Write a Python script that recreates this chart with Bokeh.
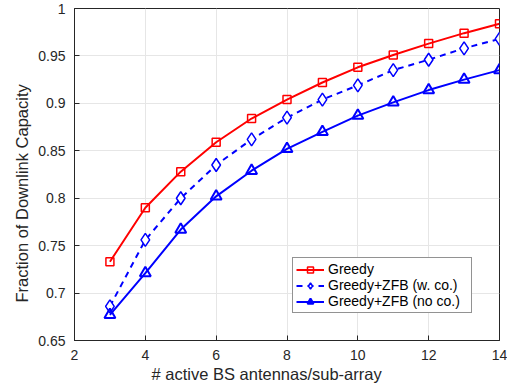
from bokeh.plotting import figure
from bokeh.models import FixedTicker, Range1d, Title
from bokeh.embed import file_html
from bokeh.resources import INLINE

x = [3, 4, 5, 6, 7, 8, 9, 10, 11, 12, 13, 14]
greedy = [0.733, 0.790, 0.828, 0.859, 0.884, 0.904, 0.922, 0.938, 0.951, 0.963, 0.974, 0.984]
zfb_co = [0.686, 0.756, 0.800, 0.835, 0.862, 0.885, 0.904, 0.919, 0.935, 0.946, 0.958, 0.968]
zfb_noco = [0.677, 0.721, 0.767, 0.802, 0.829, 0.852, 0.870, 0.887, 0.901, 0.914, 0.925, 0.935]

x_ticks = [2, 4, 6, 8, 10, 12, 14]
y_ticks = [0.65, 0.7, 0.75, 0.8, 0.85, 0.9, 0.95, 1.0]
y_tick_labels = ["0.65", "0.7", "0.75", "0.8", "0.85", "0.9", "0.95", "1"]
x_title = "# active BS antennas/sub-array"
y_title = "Fraction of Downlink Capacity"

FONT = "Liberation Sans"
FL, FR, FT, FB = 74, 499, 8, 340  # frame edges in px

p = figure(width=507, height=389, output_backend="svg", toolbar_location=None,
           x_range=Range1d(2, 14), y_range=Range1d(0.65, 1.0),
           min_border_left=FL, min_border_right=507 - FR, min_border_top=FT,
           min_border_bottom=389 - FB)
p.background_fill_color = "white"
p.border_fill_color = "white"
p.outline_line_color = "#262626"
p.outline_line_width = 1

for ax in (p.xaxis[0], p.yaxis[0]):
    ax.major_tick_in = 5
    ax.major_tick_out = 0
    ax.minor_tick_in = 0
    ax.minor_tick_out = 0
    ax.axis_line_color = "#262626"
    ax.major_tick_line_color = "#262626"
    ax.major_label_text_font = FONT
    ax.major_label_text_font_size = "14px"
    ax.major_label_text_color = "#262626"

p.xaxis.ticker = FixedTicker(ticks=x_ticks)
p.yaxis.ticker = FixedTicker(ticks=y_ticks)
p.yaxis.major_label_overrides = {t: l for t, l in zip(y_ticks, y_tick_labels)}
p.xaxis.major_label_standoff = 9
p.yaxis.major_label_standoff = 9

p.xgrid.ticker = FixedTicker(ticks=x_ticks)
p.ygrid.ticker = FixedTicker(ticks=y_ticks)
p.grid.grid_line_color = "#e6e6e6"
p.grid.grid_line_width = 1

xt = Title(text=x_title, align="left", offset=151 - FL, standoff=0,
           text_font=FONT, text_font_size="16.5px", text_font_style="normal",
           text_color="#262626")
p.add_layout(xt, "below")
yt = Title(text=y_title, align="left", offset=FB - 302, standoff=9,
           text_font=FONT, text_font_size="16.5px", text_font_style="normal",
           text_color="#262626")
p.add_layout(yt, "left")

p.line(x, greedy, line_color="#ff0000", line_width=2, legend_label="Greedy")
p.scatter(x, greedy, marker="square", size=8, line_color="#ff0000", line_width=1.5,
          fill_color=None, legend_label="Greedy")

p.line(x, zfb_co, line_color="#0000ff", line_width=2, line_dash="6 5",
       legend_label="Greedy+ZFB (w. co.)")
p.scatter(x, zfb_co, marker="diamond", size=13, line_color="#0000ff", line_width=1.5,
          fill_color="white", legend_label="Greedy+ZFB (w. co.)")

p.line(x, zfb_noco, line_color="#0000ff", line_width=2, legend_label="Greedy+ZFB (no co.)")
p.scatter(x, zfb_noco, marker="triangle", size=11, line_color="#0000ff", line_width=2,
          fill_color=None, legend_label="Greedy+ZFB (no co.)")

leg = p.legend[0]
leg.location = (218, 27)
leg.background_fill_color = "white"
leg.background_fill_alpha = 1
leg.border_line_color = "#262626"
leg.border_line_width = 1
leg.label_text_font = FONT
leg.label_text_font_size = "14px"
leg.label_text_color = "#000000"
leg.spacing = 0
leg.padding = 3
leg.margin = 0
leg.glyph_width = 28
leg.glyph_height = 15
leg.label_height = 15
leg.label_width = 140
leg.label_standoff = 4

open("out.html", "w").write(file_html(p, INLINE))
